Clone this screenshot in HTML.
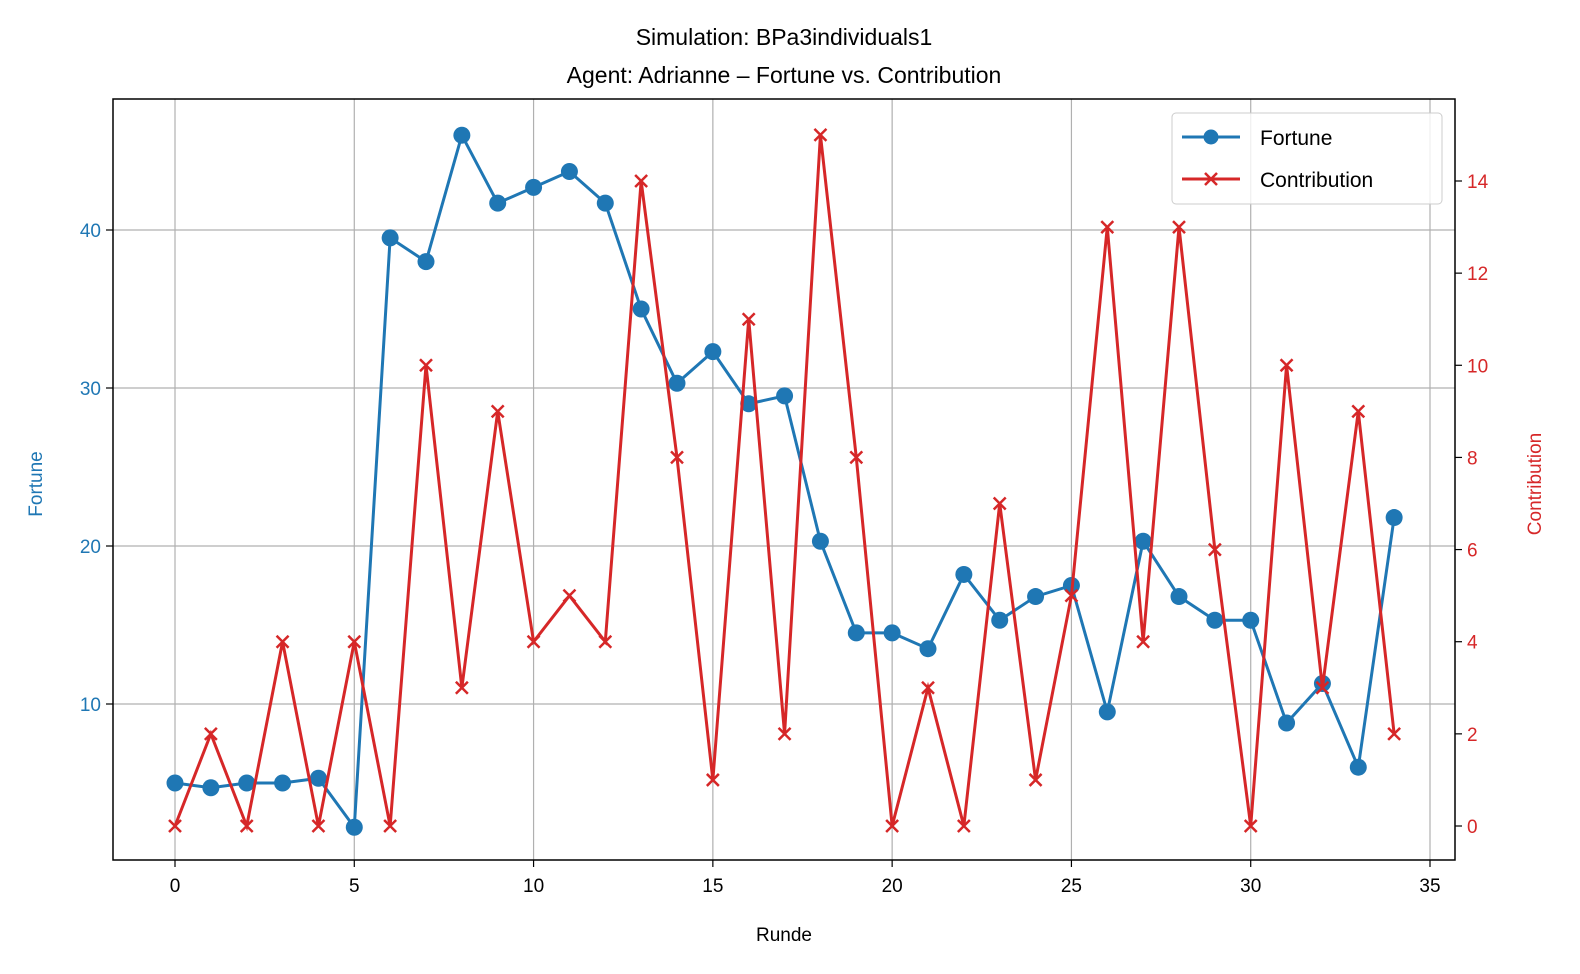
<!DOCTYPE html>
<html><head><meta charset="utf-8"><style>
html,body{margin:0;padding:0;background:#fff;overflow:hidden;width:1580px;height:974px;}
svg{display:block;}
text{font-family:"Liberation Sans","DejaVu Sans",sans-serif;}
</style></head><body>
<svg id="chart" width="1580" height="974" xmlns="http://www.w3.org/2000/svg">
<text x="784" y="45" font-size="23" text-anchor="middle">Simulation: BPa3individuals1</text>
<text x="784" y="83" font-size="23" text-anchor="middle">Agent: Adrianne – Fortune vs. Contribution</text>
<g id="grid"></g>
<g id="series"></g>
<rect x="113" y="99" width="1342" height="761" fill="none" stroke="#000" stroke-width="1.5"/>
<g id="axes"></g>
<text x="784" y="941" font-size="19" text-anchor="middle">Runde</text>
<text transform="translate(42,484) rotate(-90)" font-size="19" fill="#1f77b4" text-anchor="middle">Fortune</text>
<text transform="translate(1541,484) rotate(-90)" font-size="19" fill="#d62728" text-anchor="middle">Contribution</text>
<g>
<rect x="1172" y="113" width="270" height="91" rx="4" fill="#fff" fill-opacity="0.8" stroke="#ccc"/>
<g>
<line x1="1182" y1="137" x2="1240" y2="137" stroke="#1f77b4" stroke-width="3"/>
<circle cx="1211" cy="137" r="7.5" fill="#1f77b4"/>
<text x="1260" y="145" font-size="21">Fortune</text></g>
<g>
<line x1="1182" y1="179" x2="1240" y2="179" stroke="#d62728" stroke-width="3"/>
<path d="M1205 173 l12 12 M1217 173 l-12 12" stroke="#d62728" stroke-width="2.5"/>
<text x="1260" y="187" font-size="21">Contribution</text></g>
</g>
</svg>
<script>
const rounds=[];for(let i=0;i<35;i++)rounds.push(i);
const fortune=[5,4.7,5,5,5.3,2.2,39.5,38,46,41.7,42.7,43.7,41.7,35,30.3,32.3,29,29.5,20.3,14.5,14.5,13.5,18.2,15.3,16.8,17.5,9.5,20.3,16.8,15.3,15.3,8.8,11.3,6,21.8];
const contribution=[0,2,0,4,0,4,0,10,3,9,4,5,4,14,8,1,11,2,15,8,0,3,0,7,1,5,13,4,13,6,0,10,3,9,2];
const xTicks=[0,5,10,15,20,25,30,35];
const yLeftTicks=[10,20,30,40];
const yRightTicks=[0,2,4,6,8,10,12,14];
const NS="http://www.w3.org/2000/svg";
const xS=v=>175+v*1255/35;
const yL=v=>704-(v-10)*15.8;
const yR=v=>826-v*645/14;
function mk(tag,attrs,parent){const e=document.createElementNS(NS,tag);for(const k in attrs)e.setAttribute(k,attrs[k]);document.getElementById(parent).appendChild(e);return e;}
xTicks.forEach(t=>{
 let g=mk('line',{x1:xS(t),x2:xS(t),y1:99,y2:860,stroke:'#b0b0b0','stroke-width':1.2},'grid');
 
 
 mk('line',{x1:xS(t),x2:xS(t),y1:860,y2:867,stroke:'#000','stroke-width':1.2},'axes');
 let l=mk('text',{x:xS(t),y:892,'font-size':19,'text-anchor':'middle'},'axes');l.textContent=t;
 
 
});
yLeftTicks.forEach(t=>{
 let g=mk('line',{x1:113,x2:1455,y1:yL(t),y2:yL(t),stroke:'#b0b0b0','stroke-width':1.2},'grid');
 
 
 mk('line',{x1:106,x2:113,y1:yL(t),y2:yL(t),stroke:'#000','stroke-width':1.2},'axes');
 let l=mk('text',{x:101,y:yL(t)+7,'font-size':19,'text-anchor':'end',fill:'#1f77b4'},'axes');l.textContent=t;
 
 
});
yRightTicks.forEach(t=>{
 mk('line',{x1:1455,x2:1462,y1:yR(t),y2:yR(t),stroke:'#000','stroke-width':1.2},'axes');
 let l=mk('text',{x:1467,y:yR(t)+7,'font-size':19,fill:'#d62728'},'axes');l.textContent=t;
 
 
});
let fl=mk('polyline',{points:rounds.map((r,i)=>xS(r)+','+yL(fortune[i])).join(' '),fill:'none',stroke:'#1f77b4','stroke-width':3},'series');


rounds.forEach((r,i)=>{let c=mk('circle',{cx:xS(r),cy:yL(fortune[i]),r:8.5,fill:'#1f77b4'},'series');
 
 });
let cl=mk('polyline',{points:rounds.map((r,i)=>xS(r)+','+yR(contribution[i])).join(' '),fill:'none',stroke:'#d62728','stroke-width':3},'series');


rounds.forEach((r,i)=>{const x=xS(r),y=yR(contribution[i]);
 let p=mk('path',{d:`M${x-6} ${y-6}L${x+6} ${y+6}M${x+6} ${y-6}L${x-6} ${y+6}`,stroke:'#d62728','stroke-width':2.5},'series');
 
 });
</script>
</body></html>
